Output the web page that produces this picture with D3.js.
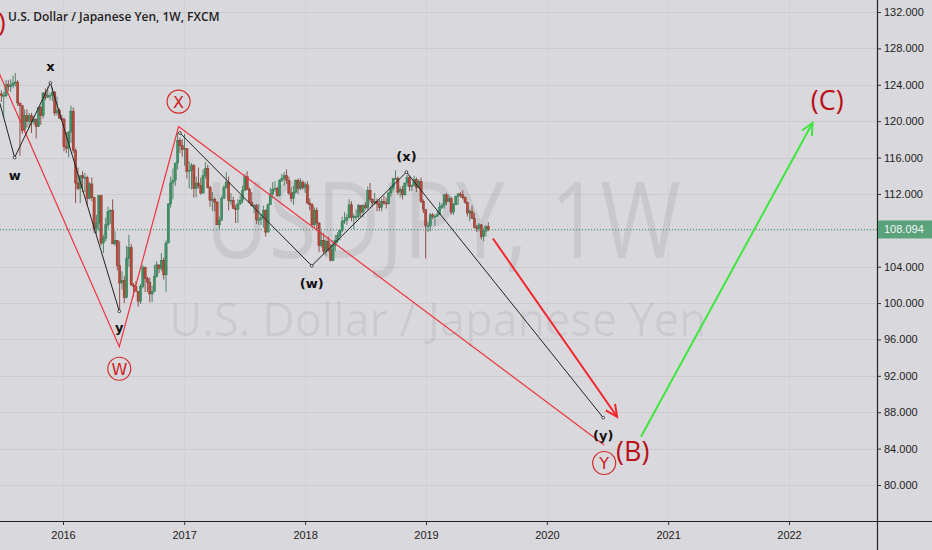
<!DOCTYPE html>
<html>
<head>
<meta charset="utf-8">
<script src="https://cdn.jsdelivr.net/npm/d3@7"></script>
<style>
  html, body { margin: 0; padding: 0; background: #d9d8dc; }
  svg { display: block; }
</style>
</head>
<body>
<svg id="chart" width="932" height="550"></svg>
<script>
// Weekly USD/JPY candles [open, high, low, close], first week 2015-06-29
var firstWeek = new Date(2015, 5, 29);
var ohlc2015 = [
  [123.0,123.4,122.1,122.8],[122.8,123.2,120.4,122.8],[122.8,124.5,122.6,124.0],[124.0,124.5,123.3,123.8],
  [123.8,124.6,123.2,123.9],[123.9,125.0,123.6,124.2],[124.2,125.3,123.8,124.3],[124.3,124.5,121.7,122.0],
  [122.0,121.8,116.2,121.7],[121.7,121.7,118.6,119.0],[119.0,121.3,118.8,120.6],[120.6,121.3,119.3,120.0],
  [120.0,120.9,119.2,120.6],[120.6,120.9,118.7,119.9],[119.9,120.6,119.6,120.2],[120.2,120.3,118.1,119.4],
  [119.4,121.5,119.4,121.5],[121.5,121.7,119.6,120.6],[120.6,123.2,120.3,123.1],[123.1,123.6,122.3,122.6],
  [122.6,123.8,122.6,122.8],[122.8,123.1,122.3,122.8],[122.8,123.7,122.2,123.2],[123.2,123.3,120.6,120.9],
  [120.9,122.7,120.6,121.2],[121.2,121.4,120.3,120.3],[120.3,120.7,120.0,120.2]
];
var ohlc2016 = [
  [120.2,120.4,116.7,117.2],[117.2,118.8,116.5,117.0],[117.0,118.9,116.0,118.8],[118.8,121.7,117.6,121.1],
  [121.1,121.5,116.5,116.8],[116.8,117.0,111.0,113.2],[113.2,114.9,112.4,112.6],[112.6,114.0,111.0,114.0],
  [114.0,114.5,112.2,113.8],[113.8,114.3,112.2,113.8],[113.8,114.0,110.7,111.5],[111.5,113.3,111.4,113.1],
  [113.1,113.8,111.2,111.6],[111.6,111.7,107.7,108.1],[108.1,109.7,107.6,108.8],[108.8,111.9,107.9,111.8],
  [111.8,111.9,106.3,106.6],[106.6,107.5,105.5,107.1],[107.1,109.4,106.8,108.6],[108.6,110.6,108.2,110.1],
  [110.1,110.3,108.7,110.2],[110.2,111.4,106.5,106.5],[106.5,107.9,106.3,106.9],[106.9,106.9,103.6,104.1],
  [104.1,106.8,99.0,102.2],[102.2,103.5,101.5,102.5],[102.5,103.0,100.0,100.6],[100.6,106.3,100.5,104.9],
  [104.9,107.5,104.0,106.1],[106.1,106.5,101.9,102.0],[102.0,102.2,100.7,101.8],[101.8,102.4,101.3,101.3],
  [101.3,101.3,99.6,100.2],[100.2,102.1,99.9,101.8],[101.8,104.2,101.6,103.9],[103.9,104.0,101.2,102.7],
  [102.7,102.9,101.2,102.3],[102.3,102.8,100.1,101.0],[101.0,101.9,100.1,101.3],[101.3,104.2,101.2,102.9],
  [102.9,104.6,102.8,104.2],[104.2,104.2,103.3,103.8],[103.8,105.5,103.5,104.7],[104.7,105.0,102.6,103.1],
  [103.1,106.9,101.2,106.6],[106.6,111.0,106.6,110.9],[110.9,113.9,110.5,113.2],[113.2,114.8,111.4,113.5],
  [113.5,115.4,112.9,115.4],[115.4,118.7,114.7,117.9],[117.9,118.2,116.5,117.3],[117.3,118.0,116.1,116.9]
];
var ohlc2017 = [
  [116.9,118.6,115.1,117.0],[117.0,116.9,113.7,114.5],[114.5,115.6,112.6,114.6],[114.6,115.4,112.5,115.1],
  [115.1,115.3,111.6,112.6],[112.6,113.9,111.6,113.2],[113.2,114.9,112.6,112.9],[112.9,113.8,111.9,112.1],
  [112.1,114.7,112.0,114.0],[114.0,115.5,113.7,114.8],[114.8,115.2,112.6,112.7],[112.7,112.9,110.6,111.3],
  [111.3,112.2,110.1,111.4],[111.4,111.6,110.1,111.1],[111.1,111.2,108.7,108.6],[108.6,109.5,108.1,109.1],
  [109.1,111.8,109.1,111.5],[111.5,113.0,111.5,112.7],[112.7,114.4,112.6,113.3],[113.3,113.9,110.2,111.3],
  [111.3,112.1,110.8,111.3],[111.3,111.7,110.4,110.4],[110.4,110.8,108.8,110.3],[110.3,111.4,108.8,110.9],
  [110.9,111.8,110.8,111.3],[111.3,112.9,111.0,112.4],[112.4,114.2,112.3,113.9],[113.9,114.5,112.4,112.5],
  [112.5,112.7,111.0,111.1],[111.1,112.2,110.6,110.7],[110.7,110.9,109.9,110.7],[110.7,110.9,108.7,109.2],
  [109.2,110.9,108.6,109.2],[109.2,109.8,108.6,109.4],[109.4,110.7,108.3,110.2],[110.2,110.3,107.3,107.8],
  [107.8,111.0,107.8,110.8],[110.8,112.7,110.8,112.0],[112.0,113.3,111.5,112.5],[112.5,113.4,112.2,112.6],
  [112.6,112.8,111.7,111.8],[111.8,113.6,111.7,113.5],[113.5,114.2,113.3,113.7],[113.7,114.4,112.9,114.0],
  [114.0,114.7,113.1,113.5],[113.5,113.9,111.9,112.1],[112.1,112.7,111.1,111.5],[111.5,112.9,110.8,112.2],
  [112.2,113.6,112.0,113.5],[113.5,113.7,112.0,112.6],[112.6,113.7,112.4,113.3],[113.3,113.5,112.5,112.7]
];
var ohlc2018 = [
  [112.7,113.3,112.1,113.0],[113.0,113.4,110.9,111.0],[111.0,111.5,110.2,110.8],[110.8,111.0,108.3,108.6],
  [108.6,110.5,108.3,110.2],[110.2,110.5,108.0,108.8],[108.8,108.9,105.6,106.3],[106.3,107.9,106.1,106.9],
  [106.9,107.7,105.3,105.7],[105.7,107.0,105.2,106.8],[106.8,107.3,105.6,105.9],[105.9,106.5,104.6,104.7],
  [104.7,106.9,104.6,106.3],[106.3,107.5,105.7,106.9],[106.9,107.8,106.6,107.4],[107.4,108.1,106.9,108.0],
  [108.0,109.5,107.8,109.0],[109.0,110.0,108.7,109.1],[109.1,109.8,108.6,109.4],[109.4,111.4,109.3,110.8],
  [110.8,111.2,109.0,109.4],[109.4,109.8,108.1,109.5],[109.5,110.3,109.1,109.5],[109.5,110.9,109.3,110.7],
  [110.7,110.8,109.4,110.0],[110.0,110.9,109.4,110.7],[110.7,111.1,110.3,110.5],[110.5,112.8,110.3,112.4],
  [112.4,113.2,111.1,111.4],[111.4,111.5,110.6,111.0],[111.0,112.1,110.8,111.2],[111.2,111.5,110.1,110.9],
  [110.9,111.4,110.1,110.5],[110.5,111.5,110.1,111.2],[111.2,111.8,110.8,111.0],[111.0,111.6,110.4,110.9],
  [110.9,112.2,110.9,112.1],[112.1,112.9,111.7,112.6],[112.6,113.7,112.3,113.7],[113.7,114.6,113.6,113.7],
  [113.7,113.9,111.9,112.2],[112.2,112.8,111.6,112.5],[112.5,112.9,111.4,111.9],[111.9,113.2,111.8,113.2],
  [113.2,114.1,112.8,113.8],[113.8,114.0,112.3,112.8],[112.8,113.0,112.3,112.9],[112.9,114.0,112.9,113.6],
  [113.6,113.8,112.2,112.7],[112.7,113.6,112.6,113.4],[113.4,113.8,111.0,111.2],[111.2,111.4,109.9,110.3],
  [110.3,110.1,104.9,108.5]
];
var ohlc2019 = [
  [108.5,108.9,107.8,108.5],[108.5,109.9,107.9,109.7],[109.7,109.9,109.2,109.5],[109.5,109.8,108.5,109.5],
  [109.5,110.2,109.5,109.7],[109.7,111.1,109.7,110.5],[110.5,111.0,110.3,110.7],[110.7,112.0,110.4,111.9],
  [111.9,112.1,110.8,111.2],[111.2,111.9,111.1,111.5],[111.5,111.7,109.7,110.0],[110.0,111.0,109.7,110.8],
  [110.8,111.8,110.8,111.7],[111.7,112.1,110.8,112.0],[112.0,112.2,111.6,111.9],[111.9,112.4,111.4,111.6],
  [111.6,111.7,110.9,111.1],[111.1,111.1,109.5,109.9],[109.9,110.3,109.0,110.1],[110.1,110.7,109.3,109.3],
  [109.3,109.9,108.3,108.3],[108.3,108.6,107.8,108.2],[108.2,108.8,107.9,108.6],[108.6,108.7,107.0,107.3],
  [107.3,108.2,106.8,107.9],[107.9,108.6,107.3,108.4],[108.4,108.9,107.9,108.1]
];
var lastPrice = 108.094;

// Axis ticks
var priceTicks = [132, 128, 124, 120, 116, 112, 104, 100, 96, 92, 88, 84, 80];
var yearTicks = [2016, 2017, 2018, 2019, 2020, 2021, 2022];

// Wave drawings as [date, price]
var waveSmall = [["2015-06-24", 122.0], ["2015-08-08", 116.0], ["2015-11-24", 124.2], ["2016-06-19", 99.1]];
var waveSmallLabels = [["w", "2015-08-08", 116.0, 22], ["x", "2015-11-24", 124.2, -12], ["y", "2016-06-19", 99.1, 21]];
var waveMid = [["2016-12-19", 118.7], ["2018-01-21", 104.1], ["2018-11-03", 114.4], ["2020-06-19", 87.4]];
var waveMidLabels = [["(w)", "2018-01-21", 104.1, 22], ["(x)", "2018-11-03", 114.4, -11], ["(y)", "2020-06-19", 87.4, 22]];
var waveBig = [["2015-06-22", 125.3], ["2016-06-19", 95.2], ["2016-12-15", 119.4], ["2020-06-22", 84.4]];
var waveBigLabels = [["W", "2016-06-19", 95.2, 22], ["X", "2016-12-15", 119.4, -25], ["Y", "2020-06-22", 84.4, 18]];
var arrowDown = [["2019-07-22", 107.1], ["2020-07-31", 87.5]];
var arrowUp = [["2020-10-11", 85.3], ["2022-03-13", 119.8]];
var bigLabels = [["(B)", "2020-07-28", 82.6], ["(C)", "2022-03-08", 121.2]];

var width = 932;
var height = 550;
var plotRight = 877;
var plotBottom = 521;

var parseDate = d3.timeParse("%Y-%m-%d");

var xScale = d3.scaleTime()
  .domain([new Date(2016, 0, 1), new Date(2022, 0, 1)])
  .range([63, 789]);

var yScale = d3.scaleLinear()
  .domain([80, 132])
  .range([485, 12]);

var candles = [].concat(ohlc2015, ohlc2016, ohlc2017, ohlc2018, ohlc2019).map(function(d, i) {
  return { date: d3.timeWeek.offset(firstWeek, i), open: d[0], high: d[1], low: d[2], close: d[3] };
});

var isUpDay = function(d) { return d.close >= d.open; };

var svg = d3.select("#chart");

svg.append("rect")
  .attr("width", width)
  .attr("height", height)
  .attr("fill", "#d9d8dc");

// Grid
var grid = svg.append("g").attr("stroke", "#cbcbce").attr("stroke-width", 1);
grid.selectAll(".hgrid")
  .data(priceTicks.concat([108]))
  .enter().append("line")
  .attr("x1", 0).attr("x2", plotRight)
  .attr("y1", function(d) { return Math.round(yScale(d)) + 0.5; })
  .attr("y2", function(d) { return Math.round(yScale(d)) + 0.5; });
grid.selectAll(".vgrid")
  .data(yearTicks)
  .enter().append("line")
  .attr("stroke", "#d2d2d5")
  .attr("y1", 0).attr("y2", plotBottom)
  .attr("x1", function(d) { return Math.round(xScale(new Date(d, 0, 1))) + 0.5; })
  .attr("x2", function(d) { return Math.round(xScale(new Date(d, 0, 1))) + 0.5; });

// Watermark
svg.append("text")
  .attr("x", 205).attr("y", 258)
  .attr("textLength", 476)
  .attr("lengthAdjust", "spacingAndGlyphs")
  .attr("font-family", "'Open Sans', sans-serif")
  .attr("font-size", 106)
  .attr("fill", "rgba(0,0,0,0.07)")
  .text("USDJPY, 1W");
svg.append("text")
  .attr("x", 438).attr("y", 336)
  .attr("text-anchor", "middle")
  .attr("font-family", "'Open Sans', sans-serif")
  .attr("font-size", 45)
  .attr("fill", "rgba(0,0,0,0.065)")
  .text("U.S. Dollar / Japanese Yen");

// Candles
var candleWidth = 1.15;
var bars = svg.append("g").selectAll(".bar")
  .data(candles)
  .enter().append("g")
  .classed("bar", true);

bars.append("line")
  .attr("x1", function(d) { return xScale(d.date); })
  .attr("x2", function(d) { return xScale(d.date); })
  .attr("y1", function(d) { return yScale(d.high); })
  .attr("y2", function(d) { return yScale(d.low); })
  .attr("stroke", function(d) { return isUpDay(d) ? "#2f6e4b" : "#7c3027"; })
  .attr("stroke-width", 0.8);

bars.append("rect")
  .attr("x", function(d) { return xScale(d.date) - candleWidth; })
  .attr("y", function(d) { return yScale(Math.max(d.open, d.close)); })
  .attr("width", candleWidth * 2)
  .attr("height", function(d) { return Math.max(0.8, Math.abs(yScale(d.open) - yScale(d.close))); })
  .attr("fill", function(d) { return isUpDay(d) ? "#3f9266" : "#b8493b"; })
  .attr("stroke", function(d) { return isUpDay(d) ? "#2f6e4b" : "#7c3027"; })
  .attr("stroke-width", 0.4);

// Last price line
svg.append("line")
  .attr("x1", 0).attr("x2", plotRight)
  .attr("y1", yScale(lastPrice)).attr("y2", yScale(lastPrice))
  .attr("stroke", "#3e9a6c")
  .attr("stroke-width", 1)
  .attr("stroke-dasharray", "1,2");

// Drawings
var line = d3.line()
  .x(function(d) { return xScale(parseDate(d[0])); })
  .y(function(d) { return yScale(d[1]); });

var drawings = svg.append("g").attr("fill", "none");

drawings.append("path").attr("d", line(waveBig)).attr("stroke", "#f0343f").attr("stroke-width", 1.2);
drawings.append("path").attr("d", line(waveSmall)).attr("stroke", "#222").attr("stroke-width", 1);
drawings.append("path").attr("d", line(waveMid)).attr("stroke", "#222").attr("stroke-width", 1);

var dots = waveSmall.slice(1).concat(waveMid);
drawings.selectAll(".dot")
  .data(dots)
  .enter().append("circle")
  .attr("cx", function(d) { return xScale(parseDate(d[0])); })
  .attr("cy", function(d) { return yScale(d[1]); })
  .attr("r", 1.4)
  .attr("fill", "#eee")
  .attr("stroke", "#222")
  .attr("stroke-width", 0.8);

// Arrows
function arrow(points, color) {
  var p0 = [xScale(parseDate(points[0][0])), yScale(points[0][1])];
  var p1 = [xScale(parseDate(points[1][0])), yScale(points[1][1])];
  var ang = Math.atan2(p1[1] - p0[1], p1[0] - p0[0]);
  var len = 13;
  var spread = 0.45;
  drawings.append("path")
    .attr("d", line(points))
    .attr("stroke", color)
    .attr("stroke-width", 2);
  drawings.append("path")
    .attr("d", "M" + (p1[0] - len * Math.cos(ang - spread)) + "," + (p1[1] - len * Math.sin(ang - spread)) +
      "L" + p1[0] + "," + p1[1] +
      "L" + (p1[0] - len * Math.cos(ang + spread)) + "," + (p1[1] - len * Math.sin(ang + spread)))
    .attr("stroke", color)
    .attr("stroke-width", 2);
}
arrow(arrowDown, "#f2262c");
arrow(arrowUp, "#3ee63e");

// Labels
var labels = svg.append("g")
  .attr("font-family", "'DejaVu Sans', sans-serif")
  .attr("font-weight", "bold")
  .attr("text-anchor", "middle")
  .attr("fill", "#111");

labels.selectAll(".small")
  .data(waveSmallLabels.concat(waveMidLabels))
  .enter().append("text")
  .attr("x", function(d) { return xScale(parseDate(d[1])); })
  .attr("y", function(d) { return yScale(d[2]) + d[3]; })
  .attr("font-size", 13)
  .text(function(d) { return d[0]; });

var circled = svg.append("g").selectAll(".circled")
  .data(waveBigLabels)
  .enter().append("g")
  .attr("transform", function(d) {
    return "translate(" + xScale(parseDate(d[1])) + "," + (yScale(d[2]) + d[3]) + ")";
  });
circled.append("circle")
  .attr("r", 11.5)
  .attr("fill", "none")
  .attr("stroke", "#d42a2a")
  .attr("stroke-width", 1.2);
circled.append("text")
  .attr("text-anchor", "middle")
  .attr("dy", 6)
  .attr("font-family", "'DejaVu Sans', sans-serif")
  .attr("font-size", 16)
  .attr("fill", "#cc1f1f")
  .text(function(d) { return d[0]; });

svg.append("g").selectAll(".big")
  .data(bigLabels)
  .enter().append("text")
  .attr("x", function(d) { return xScale(parseDate(d[1])); })
  .attr("y", function(d) { return yScale(d[2]); })
  .attr("font-family", "'Open Sans', sans-serif")
  .attr("font-size", 27)
  .attr("fill", "#bb0f18")
  .text(function(d) { return d[0]; });

svg.append("text")
  .attr("x", -2).attr("y", 31)
  .attr("font-family", "'Open Sans', sans-serif")
  .attr("font-size", 26)
  .attr("fill", "#c3111b")
  .text(")");

// Title
svg.append("text")
  .attr("x", 8).attr("y", 21)
  .attr("font-family", "'Open Sans', sans-serif")
  .attr("font-weight", 600)
  .attr("font-size", 12)
  .attr("fill", "#1e1e1e")
  .text("U.S. Dollar / Japanese Yen, 1W, FXCM");

// Axes
var yAxis = d3.axisRight(yScale)
  .tickValues(priceTicks)
  .tickSize(4)
  .tickPadding(3)
  .tickFormat(d3.format(".3f"));
var yAxisG = svg.append("g")
  .attr("transform", "translate(" + plotRight + ",0)")
  .call(yAxis);
yAxisG.select(".domain").attr("d", "M0.5,0V" + height).attr("stroke", "#222").attr("stroke-width", 1.2);
yAxisG.selectAll(".tick line").attr("stroke", "#333");
yAxisG.selectAll(".tick text")
  .attr("font-family", "'Liberation Sans', Arial, sans-serif")
  .attr("font-size", 11)
  .attr("fill", "#222");

var xAxis = d3.axisBottom(xScale)
  .tickValues(yearTicks.map(function(y) { return new Date(y, 0, 1); }))
  .tickSize(4)
  .tickPadding(6)
  .tickFormat(d3.timeFormat("%Y"));
var xAxisG = svg.append("g")
  .attr("transform", "translate(0," + plotBottom + ")")
  .call(xAxis);
xAxisG.select(".domain").attr("d", "M0,0.5H" + width).attr("stroke", "#222").attr("stroke-width", 1.2);
xAxisG.selectAll(".tick line").attr("stroke", "#333");
xAxisG.selectAll(".tick text")
  .attr("font-family", "'Liberation Sans', Arial, sans-serif")
  .attr("font-size", 11)
  .attr("fill", "#222");

// Last price tag
var tagY = yScale(lastPrice);
svg.append("rect")
  .attr("x", plotRight + 1).attr("y", tagY - 9)
  .attr("width", width - plotRight).attr("height", 18)
  .attr("fill", "#5aa27c");
svg.append("text")
  .attr("x", plotRight + 7).attr("y", tagY + 4)
  .attr("font-family", "'Liberation Sans', Arial, sans-serif")
  .attr("font-size", 11)
  .attr("fill", "#f4f4f4")
  .text(d3.format(".3f")(lastPrice));
</script>
</body>
</html>
